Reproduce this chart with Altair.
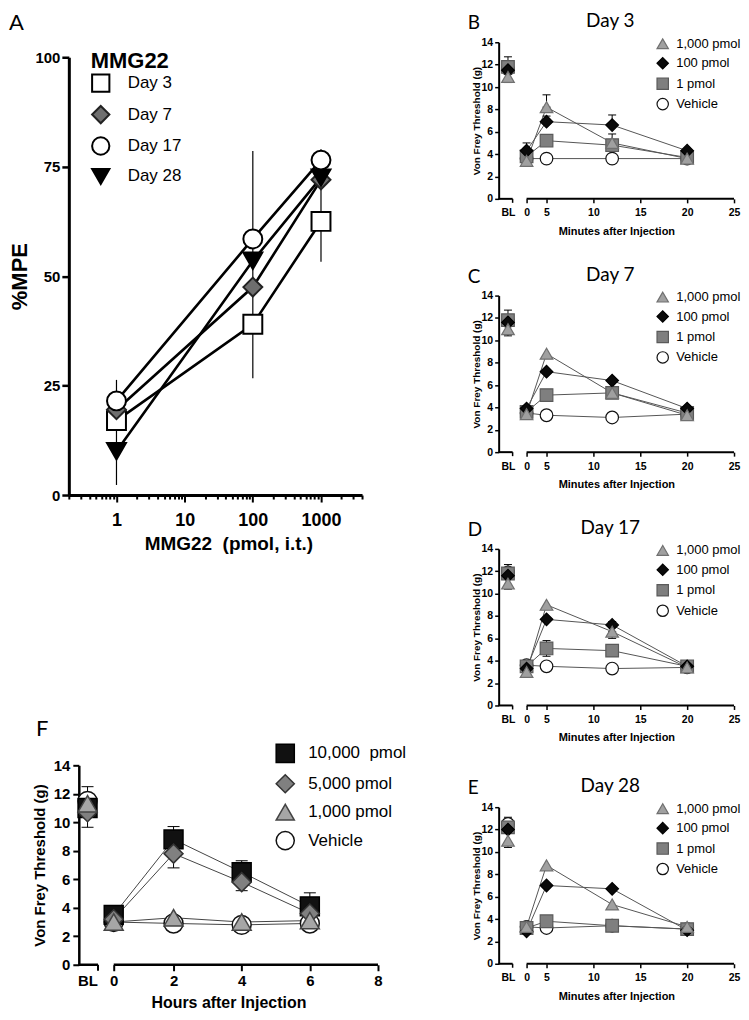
import altair as alt
import pandas as pd

FONT = "Liberation Sans"
LFONT = "Lato"
NB = "\u00a0"

# ---------------- Panel A : dose-response ----------------
A_DOSES = [1, 100, 1000]
A_SERIES = ["Day 3", "Day 7", "Day 17", "Day 28"]
A_DAY3 = [17.0, 39.0, 62.5]
A_DAY7 = [19.5, 47.5, 72.0]
A_DAY17 = [21.5, 58.5, 76.5]
A_DAY28 = [10.0, 53.5, 72.5]
A_ERR_LOW = [2.3, 26.7, 53.3]
A_ERR_HIGH = [26.3, 78.6, 79.0]
A_X_TICKS = [0.2, 0.3, 0.4, 0.5, 0.6, 0.7, 0.8, 0.9,
             1, 2, 3, 4, 5, 6, 7, 8, 9,
             10, 20, 30, 40, 50, 60, 70, 80, 90,
             100, 200, 300, 400, 500, 600, 700, 800, 900,
             1000, 2000, 3000, 4000]
A_X_MAJOR = [1, 10, 100, 1000]
A_Y_TICKS = [0, 25, 50, 75, 100]

# ---------------- Panels B-E : time course (minutes) ----------------
SM_SERIES = ["1,000 pmol", "100 pmol", "1 pmol", "Vehicle"]
SM_TIMES = ["BL", 0, 5, 12, 20]
SM_X_TICKS = ["BL", 0, 5, 10, 15, 20, 25]
SM_Y_TICKS = [0, 2, 4, 6, 8, 10, 12, 14]

D3_1000 = [10.9, 3.4, 8.2, 5.0, 3.6]
D3_100 = [11.5, 4.3, 6.9, 6.6, 4.3]
D3_1 = [11.8, 3.8, 5.2, 4.8, 3.7]
D3_VEH = [11.6, 3.6, 3.6, 3.6, 3.6]
D3_ERR = [("1,000 pmol", "BL", 10.4, 12.7), ("100 pmol", 0, 4.3, 5.0),
          ("1,000 pmol", 5, 8.2, 9.3), ("100 pmol", 5, 6.9, 7.4),
          ("100 pmol", 12, 6.6, 7.5), ("1,000 pmol", 12, 5.0, 5.8),
          ("1 pmol", 12, 4.3, 4.8)]

D7_1000 = [11.0, 3.4, 8.8, 5.3, 3.3]
D7_100 = [11.6, 3.9, 7.2, 6.4, 3.9]
D7_1 = [11.8, 3.6, 5.1, 5.3, 3.5]
D7_VEH = [11.7, 3.5, 3.3, 3.1, 3.4]
D7_ERR = [("1,000 pmol", "BL", 10.4, 12.7)]

D17_1000 = [10.9, 3.0, 9.0, 6.6, 3.4]
D17_100 = [11.6, 3.3, 7.7, 7.2, 3.5]
D17_1 = [11.8, 3.5, 5.1, 4.9, 3.5]
D17_VEH = [11.9, 3.6, 3.5, 3.3, 3.4]
D17_ERR = [("1,000 pmol", "BL", 10.4, 12.6), ("1 pmol", 5, 4.4, 5.8),
           ("100 pmol", 12, 7.2, 7.5), ("1,000 pmol", 12, 6.0, 6.6)]

D28_1000 = [11.0, 3.3, 8.8, 5.3, 3.3]
D28_100 = [12.0, 2.9, 7.0, 6.7, 3.0]
D28_1 = [12.2, 3.2, 3.8, 3.4, 3.1]
D28_VEH = [12.5, 3.3, 3.2, 3.4, 3.1]
D28_ERR = [("1,000 pmol", "BL", 10.4, 13.1)]

# ---------------- Panel F : time course (hours) ----------------
F_SERIES = ["10,000 pmol", "5,000 pmol", "1,000 pmol", "Vehicle"]
F_TIMES = ["BL", 0, 2, 4, 6]
F_X_TICKS = ["BL", 0, 2, 4, 6, 8]
F_10000 = [11.0, 3.5, 8.8, 6.5, 4.1]
F_5000 = [10.7, 3.2, 7.8, 5.8, 3.6]
F_1000 = [11.3, 3.0, 3.3, 3.0, 3.1]
F_VEH = [11.5, 3.0, 2.9, 2.8, 2.9]
F_ERR = [("10,000 pmol", "BL", 9.65, 12.5), ("10,000 pmol", 0, 3.5, 3.9),
         ("10,000 pmol", 2, 8.8, 9.7), ("5,000 pmol", 2, 6.8, 7.8),
         ("10,000 pmol", 4, 6.5, 7.3), ("5,000 pmol", 4, 5.2, 5.8),
         ("10,000 pmol", 6, 4.1, 5.05)]


def text_layer(txt, x, y, fs, align="left", baseline="top"):
    return alt.Chart(pd.DataFrame({"l": [txt]})).mark_text(
        font=LFONT, fontSize=fs, align=align, baseline=baseline, color="black"
    ).encode(text="l:N", x=alt.value(x), y=alt.value(y))


def label_expr(pad):
    e = "datum.label"
    for k, v in pad.items():
        e = f"datum.label == '{k}' ? '{v}' : " + e
    return e


def time_panel(letter, title, series, times, values, errs, st):
    bl = st["bl_pos"]

    def tx(t):
        return bl if t == "BL" else t

    z = {s: i for i, s in enumerate(st["draw_order"])}
    pts = pd.DataFrame([{"series": s, "t": tx(t), "v": v, "z": z[s]}
                        for s in series for t, v in zip(times, values[s])])
    lines = pts[pts["t"] >= 0]
    err = pd.DataFrame([{"t": tx(t), "lo": lo, "hi": hi} for s, t, lo, hi in errs])
    caps = pd.DataFrame([{"t": tx(t), "v": v} for s, t, lo, hi in errs for v in (lo, hi)])
    seg = pd.DataFrame({"t": [st["xdom"][0], 0], "t2": [st["bl_end"], st["xdom"][-1]]})
    segtick = pd.DataFrame({"t": [st["bl_end"]]})
    top = st["top"]
    HT = st["H"] + top  # group height: plot plus head room for letter/title

    xaxis = alt.Axis(
        values=[tx(t) for t in st["xticks"]],
        labelExpr="datum.value < 0 ? 'BL' : datum.label",
        domain=False,
        tickOpacity={"condition": {"test": "datum.value < 0", "value": 0}, "value": 1},
        tickSize=st["tick_size"], tickWidth=st["tick_w"],
        labelFontSize=st["lab_fs"], labelFontWeight="bold", labelPadding=st["xlab_pad"],
        titleFontSize=st["xtitle_fs"], titleFontWeight="bold", titlePadding=st["xtitle_pad"],
        labelFlush=False, labelOverlap=False, grid=False)
    yaxis = alt.Axis(
        values=SM_Y_TICKS, tickSize=st["tick_size"], tickWidth=st["tick_w"],
        domainWidth=st["dom_w"], offset=st["yoff"],
        labelFontSize=st["lab_fs"], labelFontWeight="bold", labelPadding=st["ylab_pad"],
        titleFontSize=st["ytitle_fs"], titleFontWeight="bold", titlePadding=st["ytitle_pad"],
        grid=False)
    xscale = alt.Scale(domain=st["xdom"], range=st["xrange"], nice=False, zero=False)
    yscale = alt.Scale(domain=[0, 14], range=[HT, top], nice=False)

    def X(f):
        return alt.X(f"{f}:Q", scale=xscale, axis=xaxis, title=st["xtitle"])

    def Y(f):
        return alt.Y(f"{f}:Q", scale=yscale, axis=yaxis, title="Von Frey Threshold (g)")

    lg = st["leg"]
    leg = alt.Legend(orient="none", legendX=lg["x"], legendY=lg["y"],
                     symbolSize=lg["size"], symbolStrokeWidth=st["pt_sw"],
                     labelFont=FONT, labelFontSize=lg["fs"], labelColor="black",
                     labelOffset=lg["off"], rowPadding=lg["row"], padding=0,
                     labelExpr=label_expr(st["pad"]), symbolOpacity=1, labelLimit=300)

    l_lines = alt.Chart(lines).mark_line(color=st["line_color"], strokeWidth=1).encode(
        x=X("t"), y=Y("v"), detail="series:N")
    l_err = alt.Chart(err).mark_rule(color="black", strokeWidth=1).encode(
        x=X("t"), y=Y("lo"), y2="hi")
    l_caps = alt.Chart(caps).mark_point(shape="stroke", size=st["cap_size"], color="black",
                                        strokeWidth=1, filled=False, opacity=1).encode(
        x=X("t"), y=Y("v"))
    l_pts = alt.Chart(pts).mark_point(filled=True, size=st["pt_size"],
                                      strokeWidth=st["pt_sw"], opacity=1).encode(
        x=X("t"), y=Y("v"),
        fill=alt.Fill("series:N", scale=alt.Scale(domain=series, range=st["fills"]),
                      legend=leg, title=None),
        stroke=alt.Stroke("series:N", scale=alt.Scale(domain=series, range=st["strokes"]),
                          legend=leg, title=None),
        shape=alt.Shape("series:N", scale=alt.Scale(domain=series, range=st["shapes"]),
                        legend=leg, title=None),
        order=alt.Order("z:Q"))
    l_seg = alt.Chart(seg).mark_rule(color="black", strokeWidth=st["dom_w"]).encode(
        x=X("t"), x2="t2", y=alt.value(HT))
    l_segtick = alt.Chart(segtick).mark_rule(color="black", strokeWidth=st["tick_w"]).encode(
        x=X("t"), y=alt.value(HT), y2=alt.value(HT + st["tick_size"]))
    lt = st["letter"]
    layers = [l_lines, l_err, l_caps, l_pts, l_seg, l_segtick,
              text_layer(letter, lt["x"], lt["y"], lt["fs"])]
    if title:
        layers.append(text_layer(title, st["title_x"], st["title_y"], st["title_fs"],
                                 align="center", baseline="middle"))
    return alt.layer(*layers).properties(width=st["W"], height=HT)


SMALL = dict(
    W=236, H=157, top=29, xdom=[-3, 0, 5, 25], xrange=[0, 28, 48, 236], bl_pos=-2, bl_end=-1.5,
    xticks=SM_X_TICKS, xtitle="Minutes after Injection", yoff=0,
    lab_fs=10.5, xtitle_fs=11, ytitle_fs=10, tick_size=4, tick_w=1.5, dom_w=2,
    xlab_pad=5, ylab_pad=2, xtitle_pad=7, ytitle_pad=0,
    pt_size=160, pt_sw=1.2, cap_size=64, line_color="#555555",
    fills=["#a0a0a0", "#0a0a0a", "#7f7f7f", "#ffffff"],
    strokes=["#707070", "#000000", "#5a5a5a", "#111111"],
    shapes=["triangle-up", "diamond", "square", "circle"],
    draw_order=["Vehicle", "1 pmol", "100 pmol", "1,000 pmol"],
    leg=dict(x=158, y=24, size=130, fs=13, row=3.5, off=7),
    letter=dict(x=-31, y=1, fs=19),
    title_x=112, title_y=8, title_fs=19,
    pad={"100 pmol": NB * 3 + "100 pmol", "1 pmol": NB * 7 + "1 pmol"},
)

BIGF = dict(
    W=310, H=200, top=46, xdom=[-2, 0, 2, 8], xrange=[10, 45, 105, 310], bl_pos=-1.5, bl_end=-0.9,
    xticks=F_X_TICKS, xtitle="Hours after Injection", yoff=-10,
    lab_fs=15, xtitle_fs=16, ytitle_fs=15, tick_size=6, tick_w=2, dom_w=2.5,
    xlab_pad=3, ylab_pad=3, xtitle_pad=6, ytitle_pad=6,
    pt_size=360, pt_sw=1.5, cap_size=144, line_color="#444444",
    fills=["#111111", "#808080", "#a6a6a6", "#ffffff"],
    strokes=["#000000", "#333333", "#444444", "#111111"],
    shapes=["square", "diamond", "triangle-up", "circle"],
    draw_order=["Vehicle", "10,000 pmol", "5,000 pmol", "1,000 pmol"],
    leg=dict(x=207, y=24, size=330, fs=17, row=4.5, off=13),
    letter=dict(x=-33, y=0, fs=22),
    pad={"10,000 pmol": "10,000" + NB + " pmol", "5,000 pmol": NB * 2 + "5,000 pmol",
         "1,000 pmol": NB * 2 + "1,000 pmol"},
)

# ---------------- build panel A ----------------
A_H = 439
A_TOP = 44
a_vals = {"Day 3": A_DAY3, "Day 7": A_DAY7, "Day 17": A_DAY17, "Day 28": A_DAY28}
a_z = {"Day 3": 0, "Day 7": 1, "Day 28": 2, "Day 17": 3}
dfA = pd.DataFrame([{"dose": d, "series": s, "mpe": v, "z": a_z[s]}
                    for s in A_SERIES for d, v in zip(A_DOSES, a_vals[s])])
dfAerr = pd.DataFrame({"dose": A_DOSES, "lo": A_ERR_LOW, "hi": A_ERR_HIGH})
major_test = "indexof(" + str(A_X_MAJOR) + ", datum.value) >= 0"

xA_axis = alt.Axis(values=A_X_TICKS,
                   labelExpr=major_test + " ? format(datum.value, 'd') : ''",
                   tickSize={"condition": {"test": major_test, "value": 7}, "value": 4},
                   tickWidth=2, domainWidth=3, labelFontSize=18, labelFontWeight="bold",
                   labelPadding=10, titleFontSize=19, titleFontWeight="bold", titlePadding=5,
                   labelOverlap=False, labelFlush=False, titleX=160, grid=False)
yA_axis = alt.Axis(values=A_Y_TICKS, tickSize=7, tickWidth=2.5, domainWidth=3,
                   labelFontSize=15, labelFontWeight="bold", labelPadding=2,
                   titleFontSize=22, titleFontWeight="bold", titlePadding=3, grid=False)
xA_scale = alt.Scale(type="log", domain=[0.2, 4000], nice=False)
yA_scale = alt.Scale(domain=[0, 100], range=[A_H + A_TOP, A_TOP], nice=False)


def XA(f):
    return alt.X(f"{f}:Q", scale=xA_scale, axis=xA_axis, title="MMG22" + NB + " (pmol, i.t.)")


def YA(f):
    return alt.Y(f"{f}:Q", scale=yA_scale, axis=yA_axis, title="%MPE")


legA = alt.Legend(orient="none", legendX=22, legendY=38, symbolSize=300, symbolStrokeWidth=2,
                  labelFont=FONT, labelFontSize=17, labelColor="black", labelOffset=17,
                  rowPadding=5.5, padding=0, titleFont=FONT, titleFontSize=22,
                  titleFontWeight="bold", titleColor="black", titlePadding=0, symbolOpacity=1)
A_FILLS = ["#ffffff", "#6e6e6e", "#ffffff", "#000000"]
A_STROKES = ["#000000", "#222222", "#000000", "#000000"]
A_SHAPES = ["square", "diamond", "circle", "triangle-down"]

a_lines = alt.Chart(dfA).mark_line(color="black", strokeWidth=2.6).encode(
    x=XA("dose"), y=YA("mpe"), detail="series:N")
a_err = alt.Chart(dfAerr).mark_rule(color="black", strokeWidth=1.2).encode(
    x=XA("dose"), y=YA("lo"), y2="hi")
a_pts = alt.Chart(dfA).mark_point(filled=True, size=360, strokeWidth=2, opacity=1).encode(
    x=XA("dose"), y=YA("mpe"),
    fill=alt.Fill("series:N", scale=alt.Scale(domain=A_SERIES, range=A_FILLS), legend=legA, title="MMG22"),
    stroke=alt.Stroke("series:N", scale=alt.Scale(domain=A_SERIES, range=A_STROKES), legend=legA, title="MMG22"),
    shape=alt.Shape("series:N", scale=alt.Scale(domain=A_SERIES, range=A_SHAPES), legend=legA, title="MMG22"),
    order=alt.Order("z:Q"))
panelA = alt.layer(a_lines, a_err, a_pts, text_layer("A", -60, 0, 22)).properties(
    width=294, height=A_H + A_TOP)

# ---------------- build panels B-F ----------------
panelB = time_panel("B", "Day 3", SM_SERIES, SM_TIMES,
                    {"1,000 pmol": D3_1000, "100 pmol": D3_100, "1 pmol": D3_1, "Vehicle": D3_VEH},
                    D3_ERR, SMALL)
panelC = time_panel("C", "Day 7", SM_SERIES, SM_TIMES,
                    {"1,000 pmol": D7_1000, "100 pmol": D7_100, "1 pmol": D7_1, "Vehicle": D7_VEH},
                    D7_ERR, SMALL)
panelD = time_panel("D", "Day 17", SM_SERIES, SM_TIMES,
                    {"1,000 pmol": D17_1000, "100 pmol": D17_100, "1 pmol": D17_1, "Vehicle": D17_VEH},
                    D17_ERR, SMALL)
panelE = time_panel("E", "Day 28", SM_SERIES, SM_TIMES,
                    {"1,000 pmol": D28_1000, "100 pmol": D28_100, "1 pmol": D28_1, "Vehicle": D28_VEH},
                    D28_ERR, SMALL)
panelF = time_panel("F", None, F_SERIES, F_TIMES,
                    {"10,000 pmol": F_10000, "5,000 pmol": F_5000, "1,000 pmol": F_1000, "Vehicle": F_VEH},
                    F_ERR, BIGF)

IND = dict(fill="independent", stroke="independent", shape="independent")

left = alt.vconcat(panelA, panelF, spacing=165).resolve_scale(**IND).resolve_legend(**IND)
right_top = alt.vconcat(panelB, panelC, panelD, spacing=29).resolve_scale(**IND).resolve_legend(**IND)
right = alt.vconcat(right_top, panelE, spacing=34).resolve_scale(**IND).resolve_legend(**IND)

chart = alt.hconcat(left, right, spacing=61).resolve_scale(**IND).resolve_legend(**IND).properties(
    padding={"top": 3, "left": 0, "right": 0, "bottom": 0}, background="white"
).configure_view(strokeWidth=0).configure_axis(
    labelFont=FONT, titleFont=FONT, labelColor="black", titleColor="black",
    domainColor="black", tickColor="black", grid=False
).configure_legend(labelFont=FONT, titleFont=FONT)

chart.save("out.html", embed_options={"renderer": "svg", "actions": False})
